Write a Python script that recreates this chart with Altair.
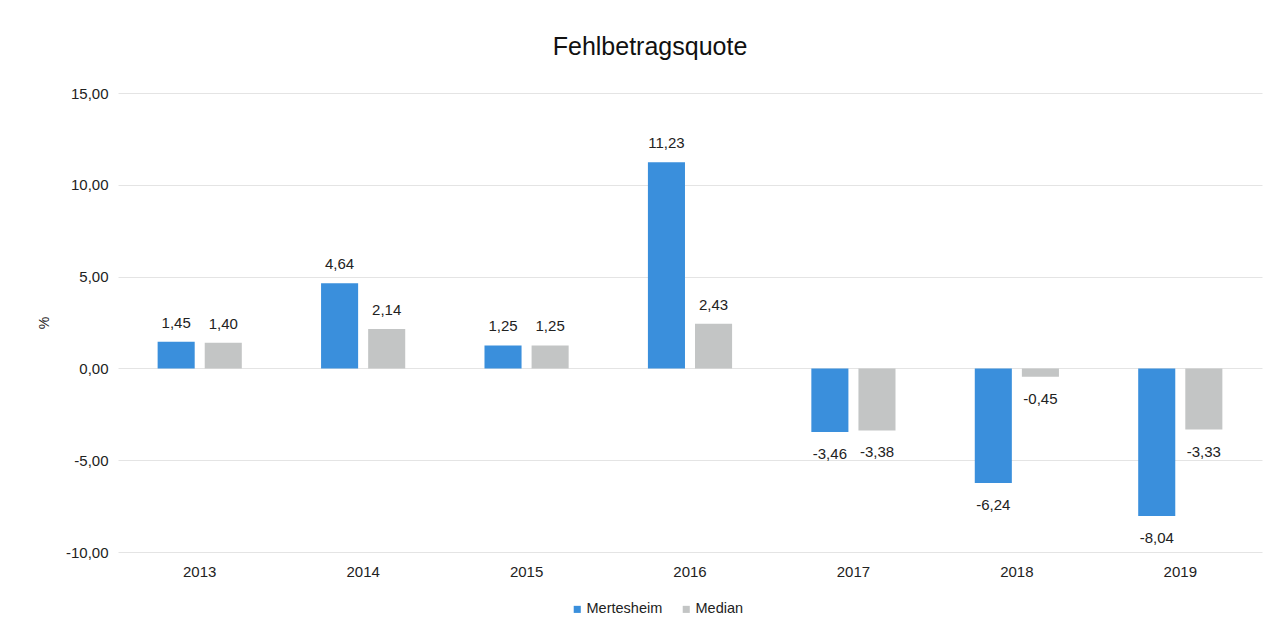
import altair as alt
import pandas as pd

years = ["2013", "2014", "2015", "2016", "2017", "2018", "2019"]
mertesheim = [1.45, 4.64, 1.25, 11.23, -3.46, -6.24, -8.04]
median = [1.40, 2.14, 1.25, 2.43, -3.38, -0.45, -3.33]
series = ["Mertesheim", "Median"]
colors = ["#3a8fdc", "#c3c5c5"]

rows = []
for i, y in enumerate(years):
    rows.append({"Jahr": y, "Serie": "Mertesheim", "Wert": mertesheim[i]})
    rows.append({"Jahr": y, "Serie": "Median", "Wert": median[i]})
df = pd.DataFrame(rows)

FONT = "Liberation Sans"
FS = 15
fmt = "replace(replace(format(datum.Wert, '.2f'), '.', ','), '\u2212', '-')"

base = alt.Chart(df).transform_calculate(
    label=fmt,
).encode(
    x=alt.X("Jahr:N", sort=years, title=None,
            scale=alt.Scale(paddingInner=0.485, paddingOuter=0.2425),
            axis=alt.Axis(labelAngle=0, ticks=False, domain=False, grid=False,
                          labelFont=FONT, labelFontSize=FS, labelColor="#222",
                          labelPadding=12)),
    xOffset=alt.XOffset("Serie:N", sort=series,
                        scale=alt.Scale(domain=series, paddingInner=0.213, paddingOuter=0)),
)

bars = base.mark_bar().encode(
    y=alt.Y("Wert:Q", title="%",
            scale=alt.Scale(domain=[-10, 15], nice=False),
            axis=alt.Axis(values=[-10, -5, 0, 5, 10, 15],
                          labelExpr="replace(replace(format(datum.value, '.2f'), '.', ','), '\u2212', '-')",
                          ticks=False, domain=False, grid=True, gridColor="#e4e4e4",
                          labelFont=FONT, labelFontSize=FS, labelColor="#222",
                          labelPadding=10, titleFont=FONT, titleFontSize=14,
                          titleFontWeight="normal", titleColor="#222", titlePadding=14)),
    y2=alt.datum(0),
    color=alt.Color("Serie:N", sort=series,
                    scale=alt.Scale(domain=series, range=colors),
                    legend=alt.Legend(title=None, orient="none", direction="horizontal",
                                      legendX=452, legendY=509,
                                      symbolType="square", symbolSize=50,
                                      labelFont=FONT, labelFontSize=14.5,
                                      labelColor="#222", columnPadding=16,
                                      symbolOffset=0, labelOffset=2)),
)

pos_labels = base.transform_filter("datum.Wert >= 0").mark_text(
    baseline="bottom", dy=-11, font=FONT, fontSize=FS, color="#222"
).encode(y="Wert:Q", text="label:N")

neg_labels = base.transform_filter("datum.Wert < 0").mark_text(
    baseline="top", dy=15, font=FONT, fontSize=FS, color="#222"
).encode(y="Wert:Q", text="label:N")

chart = alt.layer(bars, pos_labels, neg_labels).properties(
    width=1144, height=459,
    title=alt.TitleParams("Fehlbetragsquote", font=FONT, fontSize=25,
                          fontWeight="normal", color="#111", offset=26,
                          anchor="middle", dx=-40),
    autosize=alt.AutoSizeParams(type="none"),
    padding={"left": 110, "top": 85, "right": 5, "bottom": 70},
).configure_view(stroke=None)

chart.save("out.html", embed_options={"renderer": "svg", "actions": False})
